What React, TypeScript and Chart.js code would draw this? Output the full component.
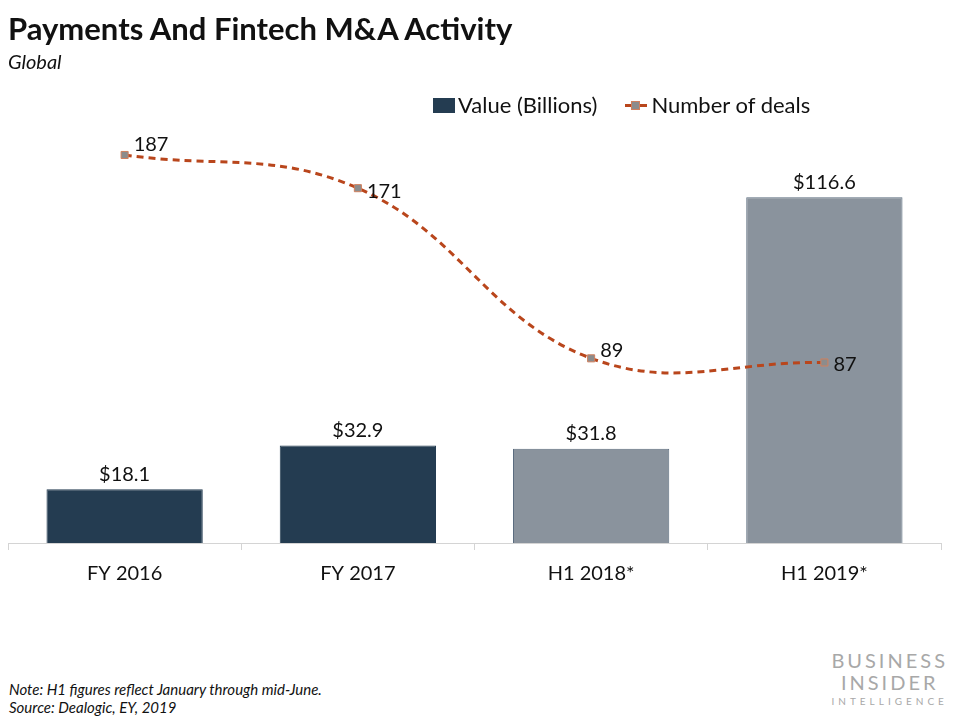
import React, { useEffect, useRef } from "react";
import { Chart, registerables } from "chart.js";

Chart.register(...registerables);

const categories = ["FY 2016", "FY 2017", "H1 2018*", "H1 2019*"];
const valueBillions = [18.1, 32.9, 31.8, 116.6];
const numberOfDeals = [187, 171, 89, 87];
const valueLabels = ["$18.1", "$32.9", "$31.8", "$116.6"];

const FONT = "Lato, 'Open Sans', 'Liberation Sans', sans-serif";
const DARK = "#243c51";
const GRAY = "#8a939d";
const LINE = "#b9461c";
const DEAL_LABEL_DY = [-10, 3, -8, 2];

const labelPlugin = {
  id: "valueLabels",
  afterDatasetsDraw(chart: any) {
    const ctx = chart.ctx;
    ctx.save();
    ctx.fillStyle = "#111";
    ctx.font = `20px ${FONT}`;
    const barMeta = chart.getDatasetMeta(0);
    barMeta.data.forEach((el: any, i: number) => {
      ctx.textAlign = "center";
      ctx.textBaseline = "bottom";
      ctx.fillText(valueLabels[i], el.x, el.y - 5);
    });
    const lineMeta = chart.getDatasetMeta(1);
    lineMeta.data.forEach((el: any, i: number) => {
      ctx.textAlign = "left";
      ctx.textBaseline = "middle";
      ctx.fillText(String(numberOfDeals[i]), el.x + 9, el.y + DEAL_LABEL_DY[i]);
    });
    ctx.restore();
  },
};

export default function App() {
  const ref = useRef<HTMLCanvasElement>(null);
  useEffect(() => {
    if (!ref.current) return;
    const chart = new Chart(ref.current, {
      type: "bar",
      data: {
        labels: categories,
        datasets: [
          {
            type: "bar",
            label: "Value (Billions)",
            data: valueBillions,
            backgroundColor: [DARK, DARK, GRAY, GRAY],
            borderColor: [DARK, DARK, "#5b6c7e", "#5b6c7e"],
            borderWidth: 1,
            categoryPercentage: 1,
            barPercentage: 0.67,
            yAxisID: "y",
            order: 2,
          },
          {
            type: "line",
            label: "Number of deals",
            data: numberOfDeals,
            borderColor: LINE,
            borderWidth: 3,
            borderDash: [7, 5],
            tension: 0.4,
            pointStyle: "rect",
            pointRadius: 5,
            pointBackgroundColor: "#8c8c8c",
            pointBorderColor: "#d0805e",
            pointBorderWidth: 1,
            yAxisID: "y1",
            order: 1,
          } as any,
        ],
      },
      options: {
        responsive: false,
        animation: false,
        layout: { padding: { left: 8, right: 19, top: 128, bottom: 2 } },
        plugins: {
          legend: { display: false },
          tooltip: { enabled: false },
          title: { display: false },
        },
        scales: {
          x: {
            grid: {
              offset: true,
              drawOnChartArea: false,
              drawTicks: true,
              tickLength: 7,
              color: "#d4d4d4",
            },
            border: { display: true, color: "#d4d4d4", width: 1 },
            ticks: {
              color: "#111",
              font: { family: FONT, size: 20 },
              padding: 12,
            },
          },
          y: { display: false, min: 0, max: 140 },
          y1: { display: false, min: 0, max: 200, position: "right" },
        },
      },
      plugins: [labelPlugin],
    });
    return () => chart.destroy();
  }, []);

  return (
    <div
      style={{
        position: "absolute",
        left: 0,
        top: 0,
        width: 960,
        height: 720,
        background: "#fff",
        fontFamily: FONT,
        color: "#111",
        overflow: "hidden",
      }}
    >
      <canvas
        ref={ref}
        width={960}
        height={600}
        style={{ position: "absolute", left: 0, top: 0, width: 960, height: 600 }}
      />
      <div
        style={{
          position: "absolute",
          left: 8,
          top: 10,
          fontSize: 31,
          fontWeight: 700,
          lineHeight: "36px",
          whiteSpace: "nowrap",
        }}
      >
        Payments And Fintech M&amp;A Activity
      </div>
      <div
        style={{
          position: "absolute",
          left: 8,
          top: 49,
          fontSize: 20,
          fontStyle: "italic",
          lineHeight: "24px",
        }}
      >
        Global
      </div>
      <div
        style={{
          position: "absolute",
          left: 433,
          top: 91,
          fontSize: 22,
          lineHeight: "28px",
          display: "flex",
          alignItems: "center",
          whiteSpace: "nowrap",
        }}
      >
        <span
          style={{ display: "inline-block", width: 22, height: 15, background: DARK, marginRight: 3 }}
        />
        <span>Value (Billions)</span>
        <span
          style={{
            position: "relative",
            display: "inline-block",
            width: 22,
            height: 15,
            marginLeft: 28,
            marginRight: 4,
          }}
        >
          <span
            style={{
              position: "absolute",
              left: 0,
              top: 6,
              width: 22,
              height: 3,
              background: LINE,
            }}
          />
          <span
            style={{
              position: "absolute",
              left: 6,
              top: 3,
              width: 9,
              height: 9,
              background: "#8c8c8c",
              border: "1px solid #d0805e",
              boxSizing: "border-box",
            }}
          />
        </span>
        <span>Number of deals</span>
      </div>
      <div
        style={{
          position: "absolute",
          left: 9,
          top: 680,
          fontSize: 15,
          fontStyle: "italic",
          lineHeight: "18px",
        }}
      >
        <div>Note: H1 figures reflect January through mid-June.</div>
        <div>Source: Dealogic, EY, 2019</div>
      </div>
      <div
        style={{
          position: "absolute",
          right: 12,
          top: 650,
          textAlign: "center",
          color: "#a8a8a8",
          lineHeight: 1,
        }}
      >
        <div style={{ fontSize: 20, letterSpacing: 3, marginBottom: 2 }}>BUSINESS</div>
        <div style={{ fontSize: 20, letterSpacing: 3, marginBottom: 4 }}>INSIDER</div>
        <div style={{ fontSize: 10, letterSpacing: 4 }}>INTELLIGENCE</div>
      </div>
    </div>
  );
}
